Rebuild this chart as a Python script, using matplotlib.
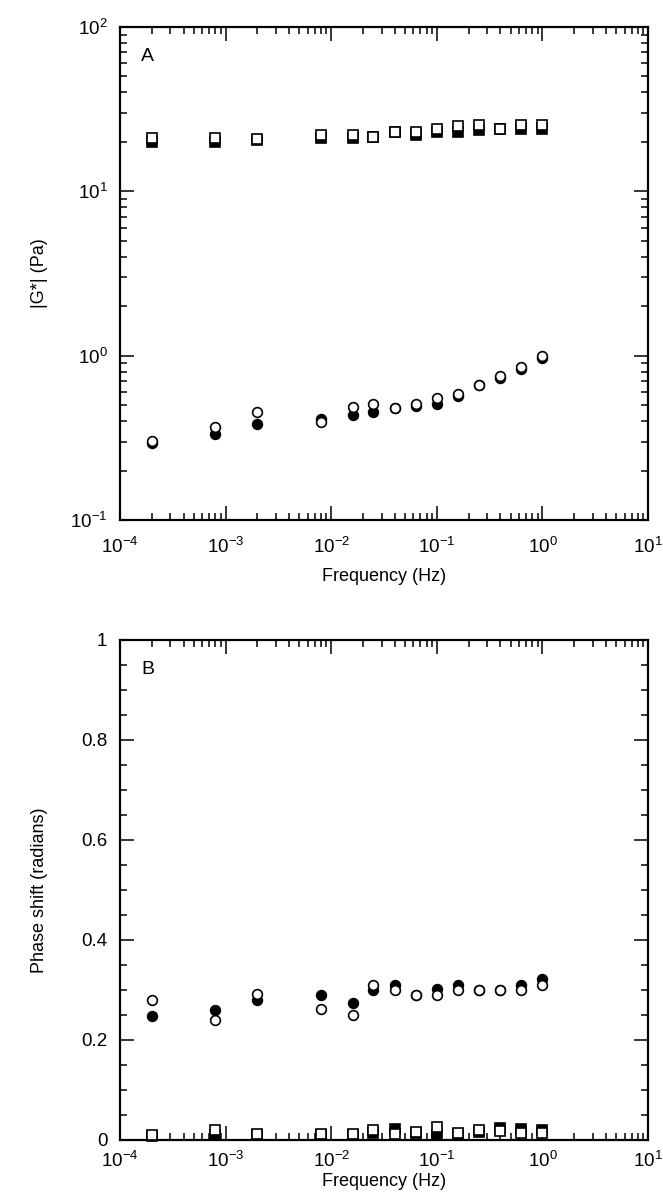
import numpy as np
import matplotlib
matplotlib.use("Agg")
import matplotlib.pyplot as plt
from matplotlib.ticker import LogLocator, MultipleLocator, FuncFormatter, NullFormatter

plt.rcParams['font.family'] = ['Liberation Sans', 'DejaVu Sans']
plt.rcParams['mathtext.fontset'] = 'custom'
plt.rcParams['mathtext.rm'] = 'Liberation Sans'
plt.rcParams['mathtext.it'] = 'Liberation Sans:italic'

freq = [2e-4, 8e-4, 2e-3, 8e-3, 0.016, 0.025, 0.04, 0.063, 0.1, 0.16, 0.25, 0.4, 0.63, 1.0]

# Panel A: |G*|
g_sq_open = [21, 21, 20.8, 22, 22, 21.5, 23, 23, 24, 25, 25.5, 24, 25.5, 25.5]
g_sq_fill = [20, 20, 20.5, 21, 21, 21.5, 23, 22, 23, 23, 23.5, 24, 24, 24]
g_ci_open = [0.303, 0.369, 0.454, 0.397, 0.487, 0.506, 0.482, 0.506, 0.554, 0.586, 0.659, 0.757, 0.858, 1.0]
g_ci_fill = [0.294, 0.333, 0.383, 0.41, 0.434, 0.456, 0.478, 0.496, 0.506, 0.567, 0.659, 0.733, 0.83, 0.97]

# Panel B: phase shift
p_ci_open = [0.280, 0.241, 0.292, 0.262, 0.251, 0.311, 0.300, 0.290, 0.290, 0.300, 0.300, 0.300, 0.300, 0.311]
p_ci_fill = [0.249, 0.261, 0.280, 0.290, 0.275, 0.300, 0.311, 0.290, 0.302, 0.311, 0.300, 0.300, 0.311, 0.323]
p_sq_open = [0.010, 0.020, 0.012, 0.012, 0.012, 0.020, 0.012, 0.017, 0.026, 0.015, 0.020, 0.019, 0.015, 0.014]
p_sq_fill = [0.008, 0.010, 0.010, 0.010, 0.010, 0.015, 0.022, 0.015, 0.010, 0.012, 0.016, 0.024, 0.022, 0.020]

W, H = 663, 1196
fig = plt.figure(figsize=(W / 100, H / 100), dpi=100)

def px_axes(l, t, r, b):
    return fig.add_axes([l / W, 1 - b / H, (r - l) / W, (b - t) / H])

axA = px_axes(120, 27, 648, 520)
axB = px_axes(120, 640, 648, 1140)

ms = 7
mew = 1.2

def log_fmt(v, pos):
    e = int(round(np.log10(v)))
    return r'$10^{%d}$' % e

for ax, xpad, lpad in ((axA, 12, 8), (axB, 8, 1)):
    ax.set_xscale('log')
    ax.set_xlim(1e-4, 1e1)
    ax.xaxis.set_major_locator(LogLocator(base=10, numticks=10))
    ax.xaxis.set_minor_locator(LogLocator(base=10, subs=np.arange(2, 10), numticks=20))
    ax.xaxis.set_major_formatter(FuncFormatter(log_fmt))
    ax.xaxis.set_minor_formatter(NullFormatter())
    ax.tick_params(which='both', direction='in', top=True, right=True, width=1.1, labelsize=13.5, pad=9)
    ax.tick_params(axis='x', which='both', pad=xpad)
    ax.tick_params(which='major', length=10)
    ax.tick_params(which='minor', length=5)
    for s in ax.spines.values():
        s.set_linewidth(1.6)
    ax.set_xlabel('Frequency (Hz)', fontsize=13, labelpad=lpad)

# Panel A
axA.set_yscale('log')
axA.set_ylim(0.1, 100)
axA.yaxis.set_major_locator(LogLocator(base=10, numticks=10))
axA.yaxis.set_minor_locator(LogLocator(base=10, subs=np.arange(2, 10), numticks=20))
axA.yaxis.set_major_formatter(FuncFormatter(log_fmt))
axA.yaxis.set_minor_formatter(NullFormatter())
axA.plot(freq, g_sq_fill, 's', ms=ms, color='black', mec='black', mew=mew, ls='none', zorder=3)
axA.plot(freq, g_sq_open, 's', ms=ms, mfc='white', mec='black', mew=mew, ls='none', zorder=4)
axA.plot(freq, g_ci_fill, 'o', ms=ms, color='black', mec='black', mew=mew, ls='none', zorder=3)
axA.plot(freq, g_ci_open, 'o', ms=ms, mfc='white', mec='black', mew=mew, ls='none', zorder=4)
axA.set_ylabel('|G*| (Pa)', fontsize=13)
axA.text(0.04, 0.94, 'A', transform=axA.transAxes, fontsize=14, va='center', ha='left')

# Panel B
axB.set_ylim(0, 1)
axB.yaxis.set_major_locator(MultipleLocator(0.2))
axB.yaxis.set_minor_locator(MultipleLocator(0.05))
axB.yaxis.set_major_formatter(FuncFormatter(lambda v, p: '%g' % round(v, 2)))
axB.plot(freq, p_sq_fill, 's', ms=ms, color='black', mec='black', mew=mew, ls='none', zorder=3, clip_on=False)
axB.plot(freq, p_sq_open, 's', ms=ms, mfc='white', mec='black', mew=mew, ls='none', zorder=4, clip_on=False)
axB.plot(freq, p_ci_fill, 'o', ms=ms, color='black', mec='black', mew=mew, ls='none', zorder=3)
axB.plot(freq, p_ci_open, 'o', ms=ms, mfc='white', mec='black', mew=mew, ls='none', zorder=4)
axB.set_ylabel('Phase shift (radians)', fontsize=13)
axB.text(0.04, 0.94, 'B', transform=axB.transAxes, fontsize=14, va='center', ha='left')

axA.yaxis.set_label_coords(-(120 - 48) / 528, 0.5)
axB.yaxis.set_label_coords(-(120 - 48) / 528, 0.5)

fig.savefig('out.png', dpi=100)
